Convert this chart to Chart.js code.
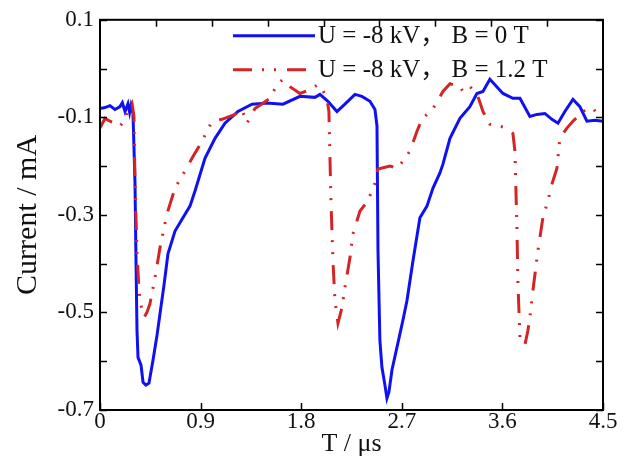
<!DOCTYPE html>
<html><head><meta charset="utf-8">
<script src="https://cdn.jsdelivr.net/npm/chart.js@4/dist/chart.umd.min.js"></script>
<style>html,body{margin:0;padding:0;background:#fff;overflow:hidden}#wrap{width:633px;height:458px}</style>
</head><body><div id="wrap"><canvas id="c" width="633" height="458"></canvas></div>
<script>
const seriesLabels = ['U = -8 kV， B = 0 T', 'U = -8 kV， B = 1.2 T'];
const xTitle = 'T / μs';
const yTitle = 'Current / mA';
const xTickValues = [0, 0.9, 1.8, 2.7, 3.6, 4.5];
const xTopTickValues = [0.5, 1.0, 1.5, 2.0, 2.5, 3.0, 3.5, 4.0];
const yTickValues = [-0.7, -0.6, -0.5, -0.4, -0.3, -0.2, -0.1, 0.0, 0.1];
const yLabelValues = [-0.7, -0.5, -0.3, -0.1, 0.1];

const blueT = [0,0.045,0.089,0.134,0.179,0.2,0.224,0.25,0.265,0.277,0.295,0.313,0.322,0.331,0.34,0.367,0.385,0.411,0.438,0.474,0.51,0.537,0.572,0.608,0.671,0.742,0.805,0.85,0.939,1.029,1.118,1.234,1.36,1.476,1.52,1.637,1.789,1.923,1.968,2.039,2.12,2.191,2.281,2.343,2.415,2.46,2.478,2.487,2.504,2.522,2.549,2.567,2.585,2.612,2.665,2.71,2.746,2.8,2.862,2.925,2.979,3.041,3.068,3.131,3.22,3.309,3.372,3.426,3.488,3.605,3.694,3.757,3.846,3.909,3.98,4.043,4.097,4.159,4.231,4.293,4.356,4.428,4.5];
const blueI = [-0.082,-0.08,-0.076,-0.084,-0.078,-0.07,-0.088,-0.072,-0.09,-0.076,-0.092,-0.233,-0.394,-0.537,-0.592,-0.608,-0.643,-0.649,-0.645,-0.598,-0.547,-0.502,-0.445,-0.38,-0.333,-0.306,-0.282,-0.251,-0.184,-0.143,-0.112,-0.088,-0.073,-0.071,-0.071,-0.073,-0.057,-0.059,-0.053,-0.067,-0.088,-0.073,-0.053,-0.057,-0.067,-0.084,-0.118,-0.373,-0.557,-0.612,-0.649,-0.676,-0.663,-0.618,-0.563,-0.516,-0.476,-0.394,-0.306,-0.282,-0.245,-0.214,-0.196,-0.143,-0.102,-0.078,-0.051,-0.047,-0.022,-0.051,-0.061,-0.061,-0.098,-0.094,-0.092,-0.104,-0.112,-0.088,-0.063,-0.078,-0.108,-0.106,-0.108];
const redT = [0,0.045,0.089,0.134,0.179,0.224,0.25,0.286,0.304,0.313,0.331,0.349,0.367,0.394,0.42,0.447,0.492,0.537,0.599,0.671,0.76,0.823,0.912,1.002,1.091,1.208,1.27,1.315,1.386,1.458,1.521,1.583,1.637,1.699,1.789,1.878,1.95,1.986,2.03,2.048,2.066,2.084,2.102,2.129,2.165,2.191,2.236,2.263,2.326,2.397,2.46,2.487,2.594,2.657,2.71,2.773,2.835,2.88,2.979,3.068,3.131,3.22,3.247,3.309,3.372,3.426,3.488,3.578,3.64,3.694,3.712,3.73,3.739,3.757,3.784,3.801,3.828,3.846,3.873,3.918,3.962,4.007,4.043,4.088,4.114,4.177,4.231,4.293,4.356,4.41,4.472];
const redI = [-0.122,-0.102,-0.108,-0.112,-0.118,-0.104,-0.084,-0.071,-0.098,-0.233,-0.376,-0.455,-0.486,-0.51,-0.5,-0.482,-0.429,-0.367,-0.298,-0.245,-0.21,-0.184,-0.149,-0.108,-0.104,-0.094,-0.084,-0.112,-0.082,-0.071,-0.061,-0.033,-0.022,-0.037,-0.051,-0.043,-0.033,-0.041,-0.061,-0.088,-0.271,-0.394,-0.475,-0.522,-0.49,-0.449,-0.388,-0.339,-0.292,-0.271,-0.235,-0.206,-0.2,-0.204,-0.19,-0.169,-0.129,-0.104,-0.082,-0.047,-0.031,-0.037,-0.047,-0.037,-0.051,-0.088,-0.114,-0.118,-0.122,-0.133,-0.169,-0.327,-0.441,-0.551,-0.563,-0.567,-0.537,-0.51,-0.455,-0.373,-0.306,-0.271,-0.237,-0.204,-0.143,-0.122,-0.108,-0.094,-0.082,-0.082,-0.098];

const SERIF = '"Liberation Serif", "Noto Sans CJK SC", "Times New Roman", serif';
const fmt = v => (Math.abs(v) < 1e-9 ? '0' : (Math.round(v * 10) / 10).toFixed(1));

const pts = (t, v) => t.map((x, i) => ({x: x, y: v[i]}));

const framePlugin = {
  id: 'frame',
  afterDatasetsDraw(chart) {
    const {ctx, chartArea: a, scales: {x, y}} = chart;
    ctx.save();
    ctx.strokeStyle = '#000';
    ctx.lineWidth = 1.5;
    ctx.setLineDash([]);
    const L = 7;
    ctx.beginPath();
    yTickValues.forEach(v => {
      const py = Math.round(y.getPixelForValue(v)) + 0.5;
      ctx.moveTo(a.left, py); ctx.lineTo(a.left + L, py);
      ctx.moveTo(a.right, py); ctx.lineTo(a.right - L, py);
    });
    xTickValues.forEach(v => {
      const px = Math.round(x.getPixelForValue(v)) + 0.5;
      ctx.moveTo(px, a.bottom); ctx.lineTo(px, a.bottom - L);
    });
    xTopTickValues.forEach(v => {
      const px = Math.round(x.getPixelForValue(v)) + 0.5;
      ctx.moveTo(px, a.top); ctx.lineTo(px, a.top + L);
    });
    ctx.stroke();
    ctx.lineWidth = 2;
    ctx.strokeRect(a.left, a.top, a.right - a.left, a.bottom - a.top);
    // legend
    const x0 = a.left + 133, x1 = a.left + 215;
    chart.data.datasets.forEach((ds, i) => {
      const yy = a.top + 16 + i * 34;
      ctx.save();
      ctx.strokeStyle = ds.borderColor;
      ctx.lineWidth = ds.borderWidth;
      ctx.setLineDash(ds.borderDash || []);
      ctx.beginPath(); ctx.moveTo(x0, yy); ctx.lineTo(x1, yy); ctx.stroke();
      ctx.restore();
      ctx.fillStyle = '#111';
      ctx.font = '25px ' + SERIF;
      ctx.textBaseline = 'middle';
      ctx.textAlign = 'left';
      ctx.fillText(ds.label, x1 + 3, yy + 1);
    });
    ctx.restore();
  }
};

new Chart(document.getElementById('c'), {
  type: 'line',
  data: {
    datasets: [
      {label: seriesLabels[0], data: pts(blueT, blueI), borderColor: '#1010f4', borderWidth: 3, pointRadius: 0, tension: 0, fill: false, order: 1},
      {label: seriesLabels[1], data: pts(redT, redI), borderColor: '#d42424', borderWidth: 3, borderDash: [19, 10, 2, 10, 2, 11], pointRadius: 0, tension: 0, fill: false, order: 0}
    ]
  },
  options: {
    responsive: false,
    animation: false,
    devicePixelRatio: 1,
    layout: {padding: {top: 18, right: 30, left: 0, bottom: 0}},
    plugins: {legend: {display: false}, tooltip: {enabled: false}},
    scales: {
      x: {
        type: 'linear', min: 0, max: 4.5,
        afterFit(s) { s.height = 48; },
        afterBuildTicks(s) { s.ticks = xTickValues.map(v => ({value: v})); },
        grid: {display: false, drawTicks: false}, border: {display: false},
        ticks: {autoSkip: false, maxRotation: 0, padding: -2, color: '#111', font: {family: SERIF, size: 23}, callback: v => fmt(v)},
        title: {display: true, text: xTitle, color: '#111', font: {family: SERIF, size: 26, lineHeight: 1}, padding: {top: 0, bottom: 1}}
      },
      y: {
        type: 'linear', min: -0.7, max: 0.1,
        afterFit(s) { s.width = 100; },
        afterBuildTicks(s) { s.ticks = yTickValues.map(v => ({value: v})); },
        grid: {display: false, drawTicks: false}, border: {display: false},
        ticks: {autoSkip: false, padding: 6, color: '#111', font: {family: SERIF, size: 23},
          callback: v => (yLabelValues.some(l => Math.abs(l - v) < 1e-6) ? fmt(v) : '')},
        title: {display: true, text: yTitle, color: '#111', font: {family: SERIF, size: 30, lineHeight: 1}, padding: {top: 13, bottom: 0}}
      }
    }
  },
  plugins: [framePlugin]
});
</script>
</body></html>
